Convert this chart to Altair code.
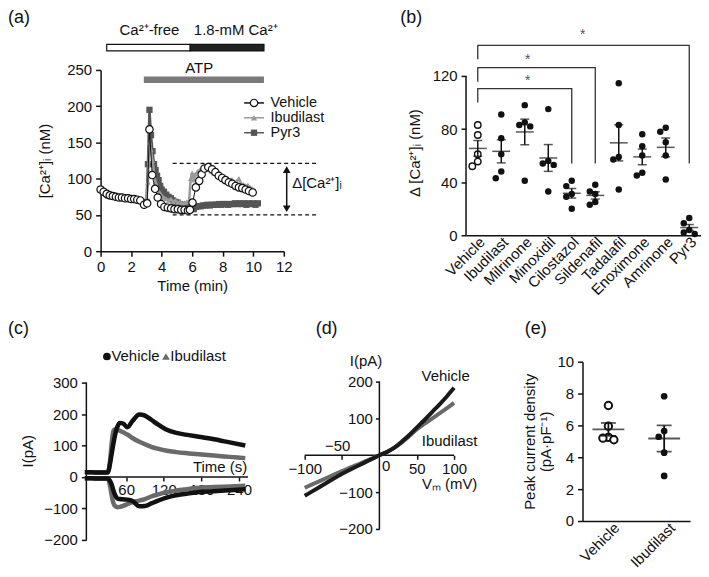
import altair as alt
import numpy as np
import pandas as pd

FONT = "Liberation Sans"
INK = "#111111"
GREY_DARK = "#555555"
GREY_LIGHT = "#9a9a9a"
GREY_TRACE = "#6a6a6a"

# ---------------- (a) [Ca2+]i time course ----------------
a_series = ["Vehicle", "Ibudilast", "Pyr3"]
a_veh_t = [0, 0.2, 0.4, 0.6, 0.8, 1.0, 1.2, 1.4, 1.6, 1.8,
           2.0, 2.2, 2.4, 2.6, 2.85, 3.05, 3.2, 3.38, 3.57, 3.74,
           3.96, 4.18, 4.4, 4.62, 4.84, 5.06, 5.28, 5.5, 5.72, 5.85,
           6.02, 6.24, 6.46, 6.62, 6.8, 7.05, 7.3, 7.52, 7.74, 7.96,
           8.18, 8.4, 8.62, 8.84, 9.06, 9.28, 9.5, 9.72, 9.96]
a_veh_v = [85, 82, 79, 77, 76, 75, 74, 74, 73, 73,
           72, 72, 71, 70, 64, 66, 168, 105, 86, 74,
           65, 61, 60, 59, 58, 58, 57, 57, 56, 57,
           67, 88, 97, 106, 114, 116, 113, 109, 104, 101,
           98, 95, 93, 90, 88, 87, 85, 83, 81]
a_ibu_t = [0, 0.5, 1.0, 1.5, 2.0, 2.5, 2.8, 3.0, 3.1, 3.2,
           3.3, 3.4, 3.5, 3.6, 3.7, 3.8, 3.9, 4.0, 4.15, 4.3,
           4.45, 4.6, 4.75, 4.9, 5.05, 5.2, 5.35, 5.5, 5.65, 5.8,
           5.9, 6.0, 6.1, 6.2, 6.35, 6.5, 6.65, 6.8, 6.95, 7.1,
           7.25, 7.4, 7.55, 7.7, 7.85, 8.0, 8.15, 8.3, 8.45, 8.6,
           8.75, 8.9, 9.05, 9.2, 9.35, 9.5, 9.65, 9.8, 9.95, 10.1]
a_ibu_v = [85, 77, 75, 74, 72, 70, 66, 70, 95, 150,
           140, 125, 108, 95, 88, 82, 80, 76, 74, 72,
           70, 72, 68, 70, 67, 68, 66, 67, 68, 70,
           100, 108, 98, 106, 110, 112, 115, 116, 114, 112,
           110, 108, 107, 105, 104, 101, 100, 98, 97, 99,
           95, 96, 100, 93, 92, 90, 91, 88, 86, 84]
a_pyr_t = [0, 0.5, 1.0, 1.5, 2.0, 2.5, 2.8, 3.0, 3.1, 3.2,
           3.3, 3.4, 3.5, 3.6, 3.7, 3.8, 3.9, 4.0, 4.15, 4.3,
           4.45, 4.6, 4.75, 4.9, 5.05, 5.2, 5.35, 5.5, 5.65, 5.8,
           5.95, 6.1, 6.25, 6.4, 6.55, 6.7, 6.85, 7.0, 7.15, 7.3,
           7.45, 7.6, 7.75, 7.9, 8.05, 8.2, 8.35, 8.5, 8.65, 8.8,
           8.95, 9.1, 9.25, 9.4, 9.55, 9.7, 9.85, 10.0, 10.15, 10.3]
a_pyr_v = [85, 77, 75, 74, 72, 70, 66, 68, 120, 195,
           160, 138, 120, 112, 104, 98, 90, 85, 82, 78,
           75, 73, 70, 68, 67, 65, 64, 63, 62, 61,
           59, 58, 61, 62, 62, 63, 63, 64, 63, 64,
           64, 64, 65, 64, 65, 65, 64, 65, 65, 66,
           65, 66, 65, 66, 64, 66, 65, 66, 64, 66]
a_ca_free = [0.4, 5.87]
a_ca_high = [5.87, 10.7]
a_atp = [2.83, 10.7]
a_bar_labels = ["Ca²⁺-free", "1.8-mM Ca²⁺", "ATP"]
a_delta_levels = [121, 50]

# ---------------- (b) Delta [Ca2+]i per drug ----------------
b_cats = ["Vehicle", "Ibudilast", "Milrinone", "Minoxidil", "Cilostazol",
          "Sildenafil", "Tadalafil", "Enoximone", "Amrinone", "Pyr3"]
b_vehicle = [83, 75.5, 61, 55.5, 52]
b_ibudilast = [91, 73, 61, 48, 43]
b_milrinone = [98, 85, 83, 82, 41]
b_minoxidil = [95, 56, 54, 53, 33]
b_cilostazol = [41, 37, 31, 29, 20]
b_sildenafil = [38, 33, 31, 25, 23]
b_tadalafil = [114.5, 83, 59, 57, 34.5]
b_enoximone = [76, 67, 60, 47, 45]
b_amrinone = [81, 78, 70, 60, 42]
b_pyr3 = [13, 9, 4, 2, 1]
b_groups = [b_vehicle, b_ibudilast, b_milrinone, b_minoxidil, b_cilostazol,
            b_sildenafil, b_tadalafil, b_enoximone, b_amrinone, b_pyr3]
b_sig_targets = ["Cilostazol", "Sildenafil", "Pyr3"]

# ---------------- (c) current time course ----------------
c_time = [-6, 5, 15, 25, 31, 34, 37, 40, 43, 46, 50, 55, 62, 70, 81,
          90, 100, 110, 123, 140, 160, 176, 200, 225, 250]
c_veh_out = [15, 15, 14, 14, 15, 40, 75, 110, 140, 160, 172, 170, 158, 178, 199,
             195, 182, 168, 152, 140, 133, 128, 120, 110, 100]
c_ibu_out = [15, 15, 14, 14, 15, 45, 110, 148, 152, 150, 147, 142, 135, 124, 112,
             104, 96, 90, 84, 79, 75, 72, 68, 64, 60]
c_veh_in = [-4, -4, -5, -5, -5, -12, -25, -45, -60, -68, -70, -71, -72, -76, -93,
            -92, -84, -76, -66, -58, -52, -48, -45, -42, -39]
c_ibu_in = [-4, -4, -5, -5, -5, -25, -60, -85, -93, -96, -95, -92, -86, -80, -75,
            -70, -62, -56, -49, -43, -38, -34, -32, -30, -28]

# ---------------- (d) I-V relation ----------------
d_vm = [-100, -90, -80, -70, -60, -50, -40, -30, -20, -10, 0,
        10, 20, 30, 40, 50, 60, 70, 80, 90, 100]
d_vehicle = [-110, -98, -86, -74, -62, -50, -40, -30, -20, -10, 0,
             9, 21, 37, 55, 75, 95, 116, 137, 159, 183]
d_ibudilast = [-88, -79, -70, -61, -52, -43, -34, -26, -17, -9, 0,
               9, 20, 35, 52, 70, 85, 99, 113, 127, 142]

# ---------------- (e) peak current density ----------------
e_cats = ["Vehicle", "Ibudilast"]
e_vehicle = [7.25, 5.95, 5.25, 5.1, 5.2]
e_ibudilast = [7.83, 5.65, 5.29, 4.29, 2.83]


# ================= helpers =================
def swarm_slots(values, min_gap):
    order = sorted(range(len(values)), key=lambda i: -values[i])
    slots = [0] * len(values)
    placed = []
    for i in order:
        used = {slots[j] for j in placed if abs(values[j] - values[i]) < min_gap}
        for s in (0, -1, 1, -2, 2, -3, 3):
            if s not in used:
                slots[i] = s
                break
        placed.append(i)
    return slots


def points_frame(cats, groups, min_gap):
    rows = []
    for c, vals in zip(cats, groups):
        for v, s in zip(vals, swarm_slots(vals, min_gap)):
            rows.append({"cat": c, "v": v, "slot": s})
    return pd.DataFrame(rows)


def stats_frame(cats, groups):
    rows = []
    for c, vals in zip(cats, groups):
        arr = np.asarray(vals, dtype=float)
        m = arr.mean()
        s = arr.std(ddof=1) / np.sqrt(len(arr))
        rows.append({"cat": c, "mean": m, "lo": m - s, "hi": m + s})
    return pd.DataFrame(rows)


def panel_label(text, dx, dy):
    return alt.Chart(pd.DataFrame({"label": [text]})).mark_text(
        font=FONT, fontSize=18, align="left", baseline="top", color=INK
    ).encode(text="label:N", x=alt.value(dx), y=alt.value(dy))


def txt(**kw):
    base = dict(font=FONT, fontSize=15, color=INK)
    base.update(kw)
    return base


# ================= panel (a) =================
W_A, H_A = 184, 182


def xa(f="t"):
    return alt.X(f"{f}:Q", scale=alt.Scale(domain=[0, 12], nice=False),
                 axis=alt.Axis(values=[0, 2, 4, 6, 8, 10, 12], title="Time (min)",
                               labelPadding=3, titlePadding=5))


def ya(f="v"):
    return alt.Y(f"{f}:Q", scale=alt.Scale(domain=[0, 250], nice=False),
                 axis=alt.Axis(values=[0, 50, 100, 150, 200, 250], title="[Ca²⁺]ᵢ (nM)",
                               labelPadding=4, titlePadding=14))


veh_df = pd.DataFrame({"t": a_veh_t, "v": a_veh_v})
ibu_df = pd.DataFrame({"t": a_ibu_t, "v": a_ibu_v})
pyr_df = pd.DataFrame({"t": a_pyr_t, "v": a_pyr_v})

sol_df = pd.DataFrame({"t": [a_ca_free[0], a_ca_high[0]], "t2": [a_ca_free[1], a_ca_high[1]],
                       "v": [276.3, 276.3], "v2": [285.3, 285.3], "fill": ["#ffffff", "#222222"]})
atp_df = pd.DataFrame({"t": [a_atp[0]], "t2": [a_atp[1]], "v": [232], "v2": [241]})
bar_lab_df = pd.DataFrame({"t": [3.2, 8.85, 6.46], "v": [305, 305, 252], "label": a_bar_labels})
dash_df = pd.DataFrame({"t": [4.72, 4.72], "t2": [14.15, 14.15], "v": a_delta_levels})
arrow_df = pd.DataFrame({"t": [12.19], "v": [57], "v2": [114]})
heads_df = pd.DataFrame({"t": [12.19, 12.19], "v": [112.5, 58.5],
                         "shape": ["triangle-up", "triangle-down"]})
delta_df = pd.DataFrame({"t": [12.55], "v": [94], "label": ["Δ[Ca²⁺]ᵢ"]})

LEG_V = [204.5, 184, 163.4]
leg_line_df = pd.DataFrame({"t": [9.4] * 3, "t2": [10.7] * 3, "v": LEG_V, "series": a_series})
leg_txt_df = pd.DataFrame({"t": [11.13] * 3, "v": LEG_V, "series": a_series})
leg_pt = {s: pd.DataFrame({"t": [10.05], "v": [v]}) for s, v in zip(a_series, LEG_V)}

series_color = alt.Color("series:N", scale=alt.Scale(domain=a_series, range=[INK, GREY_LIGHT, GREY_DARK]),
                         legend=None)

a_layers = [
    alt.Chart(sol_df).mark_rect(stroke=INK, strokeWidth=1.2).encode(
        x=xa(), x2="t2", y=ya(), y2="v2", fill=alt.Fill("fill:N", scale=None)),
    alt.Chart(atp_df).mark_rect(color="#7a7a7a").encode(x=xa(), x2="t2", y=ya(), y2="v2"),
    alt.Chart(bar_lab_df).mark_text(**txt(baseline="middle")).encode(x=xa(), y=ya(), text="label:N"),
    alt.Chart(dash_df).mark_rule(strokeDash=[4, 3], strokeWidth=1.3, color=INK).encode(
        x=xa(), x2="t2", y=ya()),
    alt.Chart(arrow_df).mark_rule(strokeWidth=1.5, color=INK).encode(x=xa(), y=ya(), y2="v2"),
    alt.Chart(heads_df).mark_point(filled=True, size=60, color=INK, opacity=1).encode(
        x=xa(), y=ya(), shape=alt.Shape("shape:N", scale=None)),
    alt.Chart(delta_df).mark_text(**txt(align="left", baseline="middle")).encode(
        x=xa(), y=ya(), text="label:N"),
    # Pyr3
    alt.Chart(pyr_df).mark_line(color=GREY_DARK, strokeWidth=2.5).encode(x=xa(), y=ya()),
    alt.Chart(pyr_df).mark_square(color=GREY_DARK, size=40, opacity=1).encode(x=xa(), y=ya()),
    # Ibudilast
    alt.Chart(ibu_df).mark_line(color=GREY_LIGHT, strokeWidth=2.5).encode(x=xa(), y=ya()),
    alt.Chart(ibu_df).mark_point(shape="triangle-up", filled=True, color=GREY_LIGHT, size=30,
                                 opacity=1).encode(x=xa(), y=ya()),
    # Vehicle
    alt.Chart(veh_df).mark_line(color=INK, strokeWidth=1).encode(x=xa(), y=ya()),
    alt.Chart(veh_df).mark_circle(size=55, fill="white", stroke=INK, strokeWidth=1.2,
                                  opacity=1).encode(x=xa(), y=ya()),
    # legend
    alt.Chart(leg_line_df).mark_rule(strokeWidth=1.5).encode(x=xa(), x2="t2", y=ya(), color=series_color),
    alt.Chart(leg_pt["Pyr3"]).mark_square(color=GREY_DARK, size=40, opacity=1).encode(x=xa(), y=ya()),
    alt.Chart(leg_pt["Ibudilast"]).mark_point(shape="triangle-up", filled=True, color=GREY_LIGHT,
                                              size=40, opacity=1).encode(x=xa(), y=ya()),
    alt.Chart(leg_pt["Vehicle"]).mark_circle(size=55, fill="white", stroke=INK, strokeWidth=1.2,
                                             opacity=1).encode(x=xa(), y=ya()),
    alt.Chart(leg_txt_df).mark_text(**txt(fontSize=14.5, align="left", baseline="middle")).encode(
        x=xa(), y=ya(), text="series:N"),
    panel_label("(a)", -93, -61),
]
panel_a = alt.layer(*a_layers).properties(width=W_A, height=H_A)

# ================= panel (b) =================
W_B, H_B = 236, 166
B_TOP = 124.5


def xb():
    return alt.X("cat:N", sort=b_cats, scale=alt.Scale(type="point", domain=b_cats, padding=0.5),
                 axis=alt.Axis(title=None, labelAngle=-45, labelAlign="right", labelBaseline="middle",
                               ticks=False, labelPadding=4, labelOffset=4))


def yb(f="v"):
    return alt.Y(f"{f}:Q", scale=alt.Scale(domain=[0, B_TOP], nice=False),
                 axis=alt.Axis(values=[0, 40, 80, 120], domain=False, title="Δ [Ca²⁺]ᵢ (nM)",
                               labelPadding=4, titlePadding=10))


pts_b = points_frame(b_cats, b_groups, min_gap=5.3)
stats_b = stats_frame(b_cats, b_groups)
xoff_b = alt.XOffset("slot:Q", scale=alt.Scale(domain=[-3, 3], range=[-16.5, 16.5]))

br_rows = []
for k, (tgt, top) in enumerate(zip(b_sig_targets, [110.5, 126.2, 143.0])):
    for o, (c, v) in enumerate([("Vehicle", top - 10.5), ("Vehicle", top), (tgt, top), (tgt, 54)]):
        br_rows.append({"br": k, "o": o, "cat": c, "v": v})
br_df = pd.DataFrame(br_rows)
star_a = pd.DataFrame({"cat": ["Milrinone", "Milrinone"], "v": [116.25, 132.0], "s": ["*", "*"]})
star_b = pd.DataFrame({"cat": ["Cilostazol"], "v": [150.75], "s": ["*"]})
yaxis_b = pd.DataFrame({"v": [0], "v2": [120]})

b_layers = [
    alt.Chart(yaxis_b).mark_rule(strokeWidth=1.5, color=INK).encode(x=alt.value(0), y=yb(), y2="v2"),
    alt.Chart(br_df).mark_line(color="#333333", strokeWidth=1.3).encode(
        x=xb(), y=yb(), detail="br:N", order="o:Q"),
    alt.Chart(star_a).mark_text(**txt(fontSize=14, color="#555555", baseline="middle", dx=3)).encode(
        x=xb(), y=yb(), text="s:N"),
    alt.Chart(star_b).mark_text(**txt(fontSize=14, color="#555555", baseline="middle", dx=11)).encode(
        x=xb(), y=yb(), text="s:N"),
    alt.Chart(pts_b[pts_b.cat != "Vehicle"]).mark_circle(size=42, color=INK, opacity=1).encode(
        x=xb(), y=yb(), xOffset=xoff_b),
    alt.Chart(pts_b[pts_b.cat == "Vehicle"]).mark_circle(size=42, fill="white", stroke=INK,
                                                          strokeWidth=1.4, opacity=1).encode(
        x=xb(), y=yb(), xOffset=xoff_b),
    alt.Chart(stats_b).mark_rule(strokeWidth=1.5, color=INK).encode(x=xb(), y=yb("lo"), y2="hi"),
    alt.Chart(stats_b).mark_tick(orient="horizontal", size=18, thickness=1.5, color=INK).encode(
        x=xb(), y=yb("mean")),
    alt.Chart(stats_b).mark_tick(orient="horizontal", size=9, thickness=1.5, color=INK).encode(
        x=xb(), y=yb("lo")),
    alt.Chart(stats_b).mark_tick(orient="horizontal", size=9, thickness=1.5, color=INK).encode(
        x=xb(), y=yb("hi")),
    panel_label("(b)", -66, -61),
]
panel_b = alt.layer(*b_layers).properties(width=W_B, height=H_B)

# ================= panel (c) =================
W_C, H_C = 148, 179
C_AX = 14.3


def xc(f="t"):
    return alt.X(f"{f}:Q", scale=alt.Scale(domain=[19.2, 254.3], nice=False, zero=False),
                 axis=alt.Axis(values=[60, 120, 180, 240], offset=-63.2, domain=False, title=None,
                               tickSize=4, labelPadding=2))


def yc(f="v"):
    return alt.Y(f"{f}:Q", scale=alt.Scale(domain=[-200, 366.5], nice=False, zero=False),
                 axis=alt.Axis(values=[-200, -100, 0, 100, 200, 300], offset=C_AX, domain=False,
                               title="I(pA)", labelPadding=4, titlePadding=8))


c_rows = []
for name, vals in [("veh_out", c_veh_out), ("veh_in", c_veh_in),
                   ("ibu_out", c_ibu_out), ("ibu_in", c_ibu_in)]:
    for t, v in zip(c_time, vals):
        c_rows.append({"t": t, "v": v, "trace": name})
c_df = pd.DataFrame(c_rows)
c_leg_sym = pd.DataFrame({"t": [29.3, 123.5], "v": [383, 383], "shape": ["circle", "triangle-up"],
                          "col": [INK, GREY_TRACE]})
c_leg_txt = pd.DataFrame({"t": [36.5, 130.5], "v": [383, 383], "label": ["Vehicle", "Ibudilast"]})
c_time_lab = pd.DataFrame({"t": [253], "v": [17], "label": ["Time (s)"]})

c_layers = [
    alt.Chart(pd.DataFrame({"v": [-200], "v2": [300]})).mark_rule(strokeWidth=1.5, color=INK).encode(
        x=alt.value(-C_AX), y=yc(), y2="v2"),
    alt.Chart(pd.DataFrame({"v": [0]})).mark_rule(strokeWidth=1.5, color=INK).encode(
        x=alt.value(-C_AX), x2=alt.value(W_C), y=yc()),
    alt.Chart(c_df[c_df.trace.str.startswith("ibu")]).mark_line(
        color=GREY_TRACE, strokeWidth=4.5, interpolate="monotone").encode(
        x=xc(), y=yc(), detail="trace:N"),
    alt.Chart(c_df[c_df.trace.str.startswith("veh")]).mark_line(
        color=INK, strokeWidth=4.5, interpolate="monotone").encode(
        x=xc(), y=yc(), detail="trace:N"),
    alt.Chart(c_leg_sym).mark_point(filled=True, size=60, opacity=1).encode(
        x=xc(), y=yc(), shape=alt.Shape("shape:N", scale=None), color=alt.Color("col:N", scale=None)),
    alt.Chart(c_leg_txt).mark_text(**txt(align="left", baseline="middle")).encode(
        x=xc(), y=yc(), text="label:N"),
    alt.Chart(c_time_lab).mark_text(**txt(align="right", baseline="alphabetic")).encode(
        x=xc(), y=yc(), text="label:N"),
    panel_label("(c)", -93, -42),
]
panel_c = alt.layer(*c_layers).properties(width=W_C, height=H_C)

# ================= panel (d) =================
W_D, H_D = 296, 168


def xd(f="V"):
    return alt.X(f"{f}:Q", scale=alt.Scale(domain=[-149.33, 245.33], nice=False, zero=False),
                 axis=alt.Axis(values=[-100, -50, 50, 100], offset=-74, domain=False, title=None,
                               tickSize=4, labelPadding=2,
                               labelExpr="datum.value == -50 ? '' : datum.label"))


def yd(f="I"):
    return alt.Y(f"{f}:Q", scale=alt.Scale(domain=[-200, 254], nice=False, zero=False),
                 axis=alt.Axis(values=[-200, -100, 100, 200], offset=-112, domain=False, title=None,
                               tickSize=4, labelPadding=3))


d_df = pd.concat([pd.DataFrame({"V": d_vm, "I": d_vehicle, "s": "Vehicle"}),
                  pd.DataFrame({"V": d_vm, "I": d_ibudilast, "s": "Ibudilast"})])
d_axes = pd.DataFrame({"V": [-100, 0], "V2": [100, 0], "I": [0, -200], "I2": [0, 200]})
d_texts = pd.DataFrame({"V": [-18, 94, 88.7, 94, -56, 9],
                        "I": [257, -78, 214, 38.6, 25, -29],
                        "label": ["I(pA)", "Vₘ (mV)", "Vehicle", "Ibudilast", "−50", "0"]})

d_layers = [
    alt.Chart(d_axes).mark_rule(strokeWidth=1.5, color=INK).encode(x=xd(), x2="V2", y=yd(), y2="I2"),
    alt.Chart(d_df[d_df.s == "Ibudilast"]).mark_line(color=GREY_TRACE, strokeWidth=4,
                                                     interpolate="monotone").encode(x=xd(), y=yd()),
    alt.Chart(d_df[d_df.s == "Vehicle"]).mark_line(color="#1a1a1a", strokeWidth=4,
                                                   interpolate="monotone").encode(x=xd(), y=yd()),
    alt.Chart(d_texts).mark_text(**txt(baseline="middle")).encode(x=xd(), y=yd(), text="label:N"),
    panel_label("(d)", 48, -42),
]
panel_d = alt.layer(*d_layers).properties(width=W_D, height=H_D)

# ================= panel (e) =================
W_E, H_E = 108, 160


def xe():
    return alt.X("cat:N", sort=e_cats, scale=alt.Scale(type="point", domain=e_cats, padding=0.464),
                 axis=alt.Axis(title=None, labelAngle=-45, labelAlign="right", labelBaseline="middle",
                               ticks=False, labelPadding=4, labelOffset=8))


def ye(f="v"):
    return alt.Y(f"{f}:Q", scale=alt.Scale(domain=[0, 10], nice=False),
                 axis=alt.Axis(values=[0, 2, 4, 6, 8, 10], title=["Peak current density", "(pA·pF⁻¹)"],
                               labelPadding=4, titlePadding=3))


pts_e = points_frame(e_cats, [e_vehicle, e_ibudilast], min_gap=0.5)
stats_e = stats_frame(e_cats, [e_vehicle, e_ibudilast])
xoff_e = alt.XOffset("slot:Q", scale=alt.Scale(domain=[-3, 3], range=[-28.5, 28.5]))

e_layers = [
    alt.Chart(pts_e[pts_e.cat != "Vehicle"]).mark_circle(size=45, color=INK, opacity=1).encode(
        x=xe(), y=ye(), xOffset=xoff_e),
    alt.Chart(pts_e[pts_e.cat == "Vehicle"]).mark_circle(size=55, fill="white", stroke=INK,
                                                          strokeWidth=2, opacity=1).encode(
        x=xe(), y=ye(), xOffset=xoff_e),
    alt.Chart(stats_e).mark_rule(strokeWidth=1.8, color=INK).encode(x=xe(), y=ye("lo"), y2="hi"),
    alt.Chart(stats_e).mark_tick(orient="horizontal", size=32, thickness=1.8, color=INK).encode(
        x=xe(), y=ye("mean")),
    alt.Chart(stats_e).mark_tick(orient="horizontal", size=15, thickness=1.8, color=INK).encode(
        x=xe(), y=ye("lo")),
    alt.Chart(stats_e).mark_tick(orient="horizontal", size=15, thickness=1.8, color=INK).encode(
        x=xe(), y=ye("hi")),
    panel_label("(e)", -58, -42),
]
panel_e = alt.layer(*e_layers).properties(width=W_E, height=H_E)

# ================= assemble =================
row1 = alt.hconcat(panel_a, panel_b, spacing=183, bounds="flush")
row2 = alt.hconcat(panel_c, panel_d, panel_e, spacing=20, bounds="flush")

chart = alt.vconcat(row1, row2, spacing=22).properties(padding=0).configure(
    font=FONT
).configure_view(stroke=None).configure_axis(
    labelFont=FONT, titleFont=FONT, labelFontSize=15, titleFontSize=15, titleFontWeight="normal",
    labelColor=INK, titleColor=INK, domainColor=INK, tickColor=INK, domainWidth=1.5, tickWidth=1.5,
    tickSize=5, grid=False, labelFlush=False, labelOverlap=False
)

chart.save("out.html", embed_options={"renderer": "svg", "actions": False})
